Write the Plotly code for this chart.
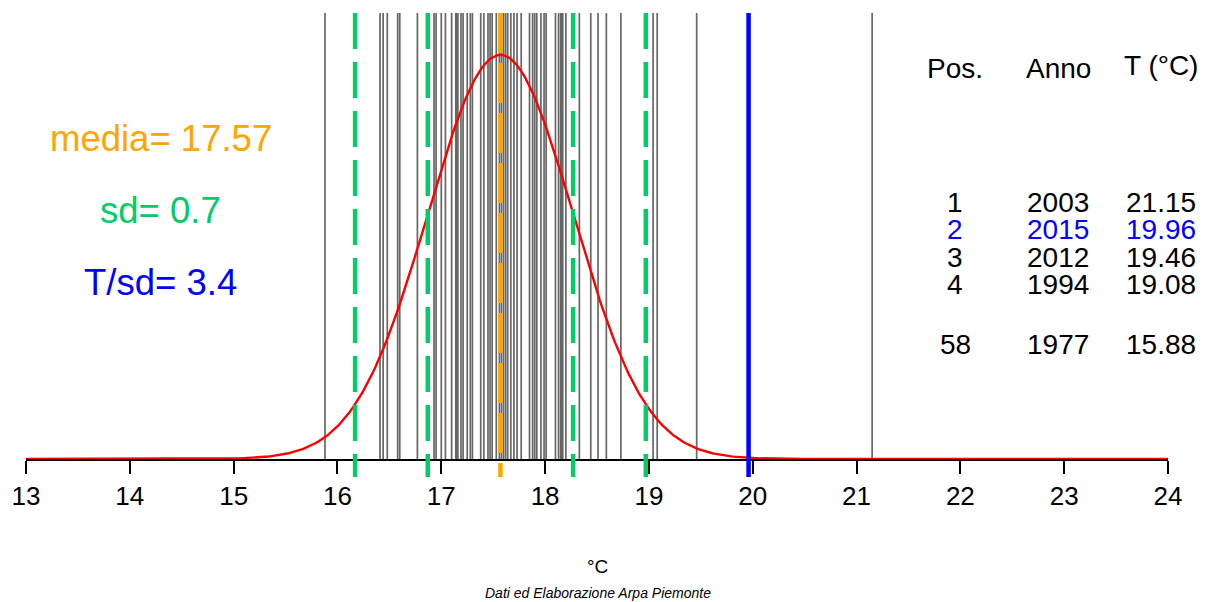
import numpy as np
import plotly.graph_objects as go

# ---------------- data ----------------
# yearly values (°C)
temps = [15.88, 16.41, 16.44, 16.48, 16.58, 16.60, 16.77, 16.93, 16.95, 17.00,
         17.04, 17.10, 17.14, 17.15, 17.16, 17.19, 17.21, 17.25, 17.28, 17.30,
         17.38, 17.41, 17.45, 17.47, 17.49, 17.53, 17.56, 17.58, 17.60, 17.62,
         17.64, 17.67, 17.70, 17.73, 17.77, 17.85, 17.88, 17.90, 17.92, 17.96,
         17.99, 18.01, 18.10, 18.13, 18.15, 18.16, 18.17, 18.20, 18.33, 18.44,
         18.51, 18.59, 18.73, 19.04, 19.08, 19.46, 19.96, 21.15]
media = 17.57
sd = 0.7
t_current = 19.96
t_over_sd = 3.4

tab_pos = ["1", "2", "3", "4", "58"]
tab_anno = ["2003", "2015", "2012", "1994", "1977"]
tab_temp = ["21.15", "19.96", "19.46", "19.08", "15.88"]
tab_highlight = [False, True, False, False, False]

x_ticks = list(range(13, 25))

# ---------------- layout geometry (page pixels) ----------------
W, H = 1205, 602
L, R, T, B = 24, 1168, 13, 459   # plot area in page pixels
YMAX = 0.629
FONT = "Liberation Sans, Arial, sans-serif"

def px(x):
    return (x - L) / (R - L)

def py(y):
    return (B - y) / (B - T)

fig = go.Figure()

# gray vertical lines
gx, gy = [], []
for v in temps:
    gx += [v, v, None]
    gy += [0, YMAX, None]
fig.add_trace(go.Scatter(x=gx, y=gy, mode="lines",
                         line=dict(color="#666666", width=1.7),
                         hoverinfo="skip", showlegend=False))

# normal curve
xc = np.linspace(13, 24, 600)
yc = np.exp(-0.5 * ((xc - media) / sd) ** 2) / (sd * np.sqrt(2 * np.pi))
fig.add_trace(go.Scatter(x=xc, y=yc, mode="lines",
                         line=dict(color="#ff0000", width=2.4),
                         hoverinfo="skip", showlegend=False))

ybot = -(477 - B) / (B - T)
for k in (-2, -1, 1, 2):
    xv = media + k * sd
    fig.add_shape(type="line", xref="x", yref="paper", x0=xv, x1=xv, y0=1, y1=ybot,
                  line=dict(color="#00cd66", width=4.5, dash="36px,13px"), layer="above")
fig.add_shape(type="line", xref="x", yref="paper", x0=media, x1=media, y0=1, y1=ybot,
              line=dict(color="#ffa500", width=4.5, dash="40px,10px"), layer="above")
fig.add_shape(type="line", xref="x", yref="paper", x0=t_current, x1=t_current, y0=1, y1=ybot,
              line=dict(color="#0000ff", width=4.5), layer="above")

ann = []
def text(x, y, s, size, color="black", italic=False):
    ann.append(dict(x=px(x), y=py(y), xref="paper", yref="paper", text=s,
                    showarrow=False, xanchor="center", yanchor="middle",
                    font=dict(family=FONT, size=size, color=color,
                              style="italic" if italic else "normal")))

text(159, 138, f"media= {media:.2f}", 36.5, "#ffa500")
text(159, 211, f"sd= {sd:g}", 36.5, "#00cd66")
text(159, 282, f"T/sd= {t_over_sd:g}", 36.5, "#0000ff")

text(955, 68, "Pos.", 28)
text(1058, 68, "Anno", 28)
text(1161, 65, "T (°C)", 28)
row_y = [202, 230, 257, 284, 345]
for p, a, t, h, yy in zip(tab_pos, tab_anno, tab_temp, tab_highlight, row_y):
    c = "#0000ff" if h else "black"
    text(955, yy, p, 28, c)
    text(1058, yy, a, 28, c)
    text(1161, yy, t, 28, c)

text(596, 566, "°C", 19)
text(597, 593, "Dati ed Elaborazione Arpa Piemonte", 14, italic=True)

fig.update_layout(
    width=W, height=H,
    margin=dict(l=L, r=W - R, t=T, b=H - B, pad=0),
    paper_bgcolor="white", plot_bgcolor="white",
    annotations=ann,
    xaxis=dict(range=[13, 24], tickvals=x_ticks, ticktext=[str(v) for v in x_ticks],
               showgrid=False, zeroline=False, showline=True, linecolor="black",
               linewidth=2, ticks="outside", ticklen=13, tickwidth=2, tickcolor="black",
               tickfont=dict(family=FONT, size=26, color="black"), fixedrange=True),
    yaxis=dict(range=[0, YMAX], visible=False, fixedrange=True),
)

fig.write_html("out.html", config={"displayModeBar": False},
               post_script="document.body.style.margin='0';document.body.style.overflow='hidden';")
